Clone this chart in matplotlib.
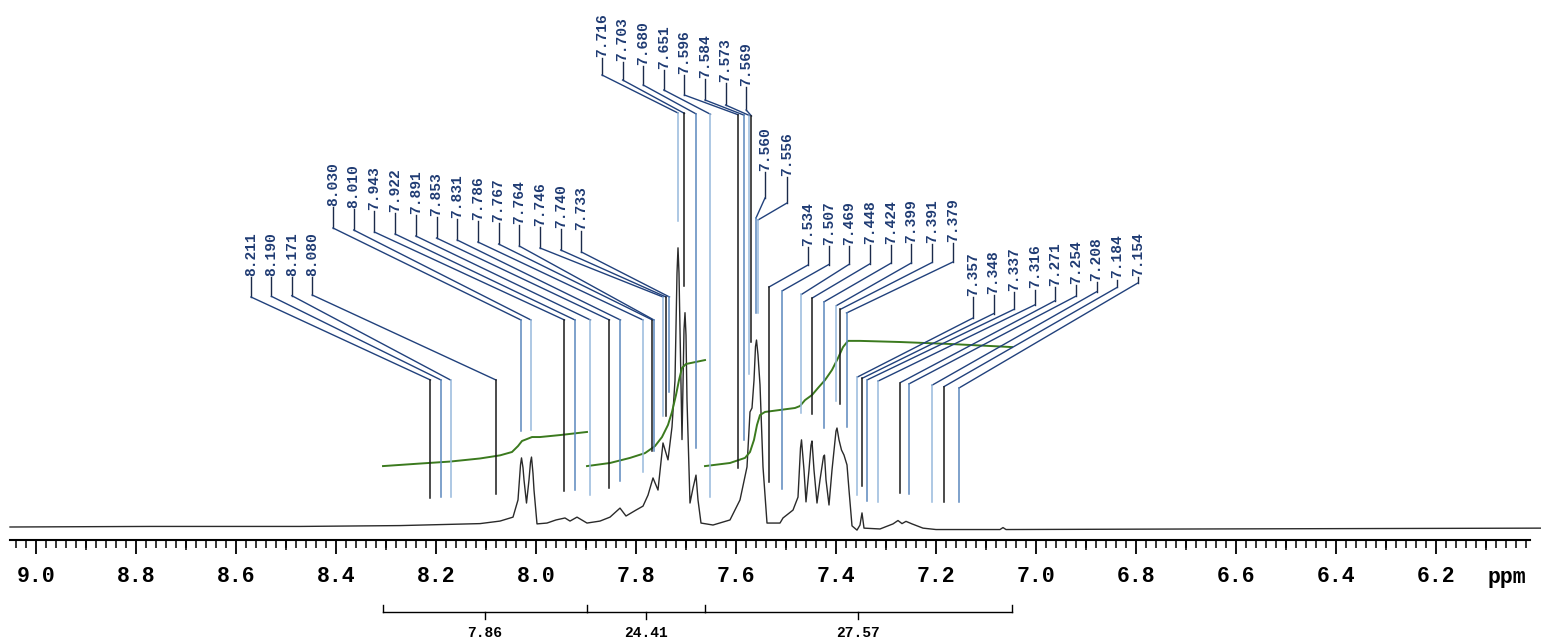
import numpy as np
import matplotlib
matplotlib.use("Agg")
import matplotlib.pyplot as plt
from matplotlib.ticker import MultipleLocator, FormatStrFormatter

plt.rcParams["font.family"] = ["Liberation Mono", "DejaVu Sans Mono"]
plt.rcParams["font.weight"] = "bold"

# 1H spectrum trace (ppm, relative intensity; tallest = 100)
spec_ppm = [9.052, 8.772, 8.472, 8.272, 8.112, 8.072, 8.046, 8.036, 8.031, 8.029,
            8.026, 8.024, 8.019, 8.014, 8.011, 8.009, 8.006, 8.004, 7.998, 7.978,
            7.960, 7.942, 7.932, 7.918, 7.898, 7.872, 7.852, 7.832, 7.820, 7.800,
            7.786, 7.776, 7.766, 7.756, 7.746, 7.736, 7.728, 7.722, 7.718, 7.716,
            7.714, 7.712, 7.708, 7.704, 7.702, 7.700, 7.698, 7.692, 7.686, 7.680,
            7.676, 7.670, 7.646, 7.612, 7.592, 7.578, 7.572, 7.568, 7.564, 7.561,
            7.559, 7.556, 7.552, 7.546, 7.538, 7.512, 7.506, 7.486, 7.476, 7.471,
            7.469, 7.464, 7.460, 7.454, 7.450, 7.448, 7.444, 7.438, 7.432, 7.425,
            7.423, 7.420, 7.414, 7.408, 7.400, 7.398, 7.394, 7.389, 7.384, 7.378,
            7.374, 7.368, 7.358, 7.352, 7.348, 7.344, 7.312, 7.286, 7.276, 7.268,
            7.260, 7.248, 7.226, 7.200, 7.072, 7.066, 7.060, 6.672, 5.990]
spec_int = [0.0, 0.2, 0.2, 0.5, 1.2, 2.1, 3.5, 9.6, 22.0, 24.5,
            21.0, 16.7, 8.5, 16.7, 23.0, 24.8, 19.0, 13.1, 1.1, 1.4,
            2.5, 3.2, 2.1, 3.5, 1.4, 2.1, 3.5, 6.7, 3.9, 6.0,
            7.4, 11.3, 17.4, 13.1, 29.8, 23.8, 35.5, 52.0, 90.0, 99.0,
            90.0, 70.0, 31.0, 70.0, 76.0, 68.0, 45.0, 8.5, 13.8, 18.4,
            9.6, 1.4, 0.7, 2.5, 9.6, 21.3, 40.8, 42.2, 52.0, 64.0,
            66.3, 61.0, 50.4, 21.3, 1.4, 1.4, 3.2, 6.0, 10.6, 28.0,
            30.9, 20.2, 8.9, 20.2, 29.0, 30.5, 20.2, 8.5, 16.7, 25.0,
            25.5, 16.7, 7.8, 20.2, 34.0, 35.1, 30.9, 27.3, 25.5, 22.0,
            13.1, 0.4, -1.1, 0.7, 5.0, -0.4, -0.7, 1.1, 2.3, 1.2,
            2.0, 1.1, -0.4, -0.9, -0.9, -0.2, -0.9, -0.7, -0.4]

# picked peaks, in the label clusters of the picture
peak_groups = [
    [8.211, 8.190, 8.171, 8.080],
    [8.030, 8.010, 7.943, 7.922, 7.891, 7.853, 7.831, 7.786, 7.767, 7.764,
     7.746, 7.740, 7.733],
    [7.716, 7.703, 7.680, 7.651, 7.596, 7.584, 7.573, 7.569],
    [7.560, 7.556],
    [7.534, 7.507, 7.469, 7.448, 7.424, 7.399, 7.391, 7.379],
    [7.357, 7.348, 7.337, 7.316, 7.271, 7.254, 7.208, 7.184, 7.154],
]

# integral curves
int1_ppm = [8.306, 8.232, 8.172, 8.112, 8.072, 8.048, 8.036, 8.028, 8.018, 8.008,
            7.992, 7.952, 7.898]
int1_val = [21.6, 22.5, 23.2, 24.3, 25.4, 26.6, 28.7, 30.5, 31.2, 31.9,
            31.9, 32.6, 33.7]
int2_ppm = [7.898, 7.852, 7.812, 7.782, 7.762, 7.748, 7.736, 7.728, 7.720, 7.714,
            7.708, 7.700, 7.662]
int2_val = [21.6, 22.7, 24.5, 26.2, 28.7, 31.9, 36.2, 40.8, 46.8, 52.1,
            56.4, 57.8, 59.2]
int3_ppm = [7.662, 7.612, 7.582, 7.572, 7.564, 7.558, 7.552, 7.542, 7.512, 7.482,
            7.472, 7.462, 7.448, 7.436, 7.422, 7.408, 7.396, 7.386, 7.376, 7.352,
            7.272, 7.172, 7.048]
int3_val = [21.6, 22.7, 24.5, 26.6, 30.9, 36.2, 39.7, 40.8, 41.5, 42.2,
            42.9, 45.0, 46.8, 49.3, 52.1, 55.7, 59.9, 63.8, 66.0, 66.0,
            65.6, 64.9, 63.8]
int_regions = [(8.306, 7.898), (7.898, 7.662), (7.662, 7.048)]
int_labels = ["7.86", "24.41", "27.57"]


def xp(pix):
    # picture column -> ppm
    return 9.0 - (pix - 36) / 500.0


def yv(pix):
    # picture row -> intensity units
    return (527 - pix) / 2.82


# label layout per cluster: first column, spacing, text bottom, leader bottom, kink row
group_layout = [
    (251, 20.4, (277, 277), (297, 295), (380, 380)),
    (333, 20.7, (207, 231), (228, 252), (320, 320)),
    (602, 20.6, (58, 87), (75, 110), (113, 116)),
    (765, 22.0, (172, 177), (198, 203), (218, 220)),
    (808, 20.7, (247, 243), (265, 262), (287, 313)),
    (973, 20.6, (297, 277), (318, 283), (377, 388)),
]
kink_override = {7.746: 297, 7.740: 297, 7.733: 297}

sp_x = np.array(spec_ppm[::-1])
sp_y = np.array(spec_int[::-1])


def local_top(ppm):
    grid = np.linspace(ppm - 0.006, ppm + 0.006, 25)
    return np.interp(grid, sp_x, sp_y).max()


fig = plt.figure(figsize=(15.41, 6.44), dpi=100)
ax = fig.add_axes([10 / 1541, 104 / 644, 1520 / 1541, 540 / 644])
ax.set_xlim(9.052, 6.012)
ax.set_ylim(yv(540), yv(0))
for s in ["top", "left", "right"]:
    ax.spines[s].set_visible(False)
ax.spines["bottom"].set_linewidth(1.5)
ax.set_yticks([])

ax.xaxis.set_major_locator(MultipleLocator(0.2))
ax.xaxis.set_minor_locator(MultipleLocator(0.02))
ax.xaxis.set_major_formatter(FormatStrFormatter("%.1f"))
ax.tick_params(axis="x", which="major", direction="out", length=10, width=1.3,
               pad=9, labelsize=15.5)
ax.tick_params(axis="x", which="minor", direction="out", length=5.8, width=1.1)
mid = ax.secondary_xaxis("bottom")
mid.set_xticks(np.arange(6.1, 9.1, 0.2))
mid.tick_params(length=7.5, width=1.1, labelbottom=False)
mid.spines["bottom"].set_visible(False)
ax.text(xp(1507), yv(583), "ppm", ha="center", va="baseline", fontsize=15.5)

# spectrum and integrals
ax.plot(spec_ppm, spec_int, color="#2a2a2a", lw=1.0, clip_on=False)
for px, pv in [(int1_ppm, int1_val), (int2_ppm, int2_val), (int3_ppm, int3_val)]:
    ax.plot(px, pv, color="#3b7a1e", lw=1.4)

# peak labels
vcols = ["#1a1a1a", "#5b88bd", "#97b9dc"]
k = 0
for grp, (x0, dx, tb, lb, kk) in zip(peak_groups, group_layout):
    n = len(grp)
    for i, ppm in enumerate(grp):
        f = i / (n - 1)
        lx = xp(x0 + i * dx)
        t_b = tb[0] + f * (tb[1] - tb[0])
        l_b = lb[0] + f * (lb[1] - lb[0])
        kink = kink_override.get(ppm, kk[0] + f * (kk[1] - kk[0]))
        bottom = local_top(ppm) + 9.6
        ax.text(lx, yv(t_b - 1), f"{ppm:.3f}", rotation=90, ha="center",
                va="bottom", fontsize=10.5, color="#1f3b73")
        ax.plot([lx, lx], [yv(t_b), yv(l_b)], color="#1b2a4a", lw=1.0)
        ax.plot([lx, ppm], [yv(l_b), yv(kink)], color="#21417c", lw=1.0)
        ax.plot([ppm, ppm], [yv(kink), bottom], color=vcols[k % 3], lw=1.1)
        k += 1

# integral bracket under the axis
by = yv(612)
for (a, b), lab in zip(int_regions, int_labels):
    ax.plot([a, b], [by, by], color="black", lw=1.0, clip_on=False)
    ax.plot([a, a], [by, yv(605)], color="black", lw=1.0, clip_on=False)
    c = (a + b) / 2
    ax.plot([c, c], [by, yv(619)], color="black", lw=1.0, clip_on=False)
    ax.text(c, yv(633), lab, ha="center", va="center", fontsize=10.5)
ax.plot([int_regions[-1][1]] * 2, [by, yv(605)], color="black", lw=1.0, clip_on=False)

fig.savefig("out.png", dpi=100)
